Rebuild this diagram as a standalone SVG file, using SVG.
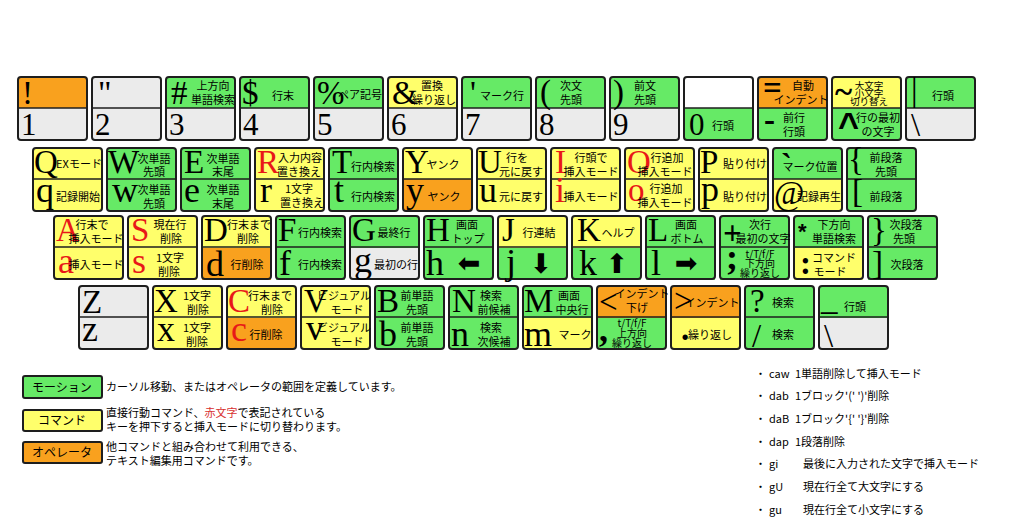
<svg xmlns="http://www.w3.org/2000/svg" xmlns:xlink="http://www.w3.org/1999/xlink" width="1024" height="528" viewBox="0 0 1024 528">
<style>
.G{fill:#66EA66}.Y{fill:#FFFF6B}.O{fill:#F9A11E}.W{fill:#EBEBEB}.E{fill:#FFFFFF}
.b{fill:none;stroke:#1E1E1E;stroke-width:2}
.d{stroke:#1E1E1E;stroke-width:1.6}
.K{font-family:"Liberation Serif",serif;font-size:33px;fill:#000}
.k{font-family:"Liberation Serif",serif;font-size:36px;fill:#000}
.n{font-family:"Liberation Serif",serif;font-size:31px;fill:#000}
.bd{font-weight:bold}
.t{font-family:"Noto Sans CJK JP",sans-serif;font-size:11px;text-anchor:middle;fill:#000}
.s{font-family:"Noto Sans CJK JP",sans-serif;font-size:10px;text-anchor:middle;fill:#000}
.s9{font-family:"Noto Sans CJK JP",sans-serif;font-size:9.5px;text-anchor:middle;fill:#000}
.a{font-family:"DejaVu Sans",sans-serif;font-size:27px;text-anchor:middle;fill:#000}
.sy{font-family:"Liberation Sans",sans-serif;font-weight:bold;fill:#000}
.lg{font-family:"Noto Sans CJK JP",sans-serif;font-size:11px;fill:#000}
.lb{font-family:"Noto Sans CJK JP",sans-serif;font-size:12px;text-anchor:middle;fill:#000}
.r{fill:#E81818}
.lr{fill:#D83030}
</style>
<defs>
<g id="fr"><rect class="b" width="69" height="63" rx="3"/><line class="d" x1="0" y1="31" x2="69" y2="31"/></g>
</defs>

<!-- Row 1 -->
<g id="key-1" transform="translate(18,77)"><rect class="O" width="69" height="31"/><rect class="W" y="31" width="69" height="32"/><use href="#fr"/>
<text class="K" x="4" y="27">!</text><text class="n" x="3" y="58">1</text></g>
<g id="key-2" transform="translate(92,77)"><rect class="W" width="69" height="31"/><rect class="W" y="31" width="69" height="32"/><use href="#fr"/>
<text class="K" x="6" y="27">"</text><text class="n" x="3" y="58">2</text></g>
<g id="key-3" transform="translate(166,77)"><rect class="G" width="69" height="31"/><rect class="W" y="31" width="69" height="32"/><use href="#fr"/>
<text class="K" x="5" y="27">#</text><text class="t" x="47" y="13">上方向</text><text class="t" x="47" y="27">単語検索</text><text class="n" x="3" y="58">3</text></g>
<g id="key-4" transform="translate(240,77)"><rect class="G" width="69" height="31"/><rect class="W" y="31" width="69" height="32"/><use href="#fr"/>
<text class="K" x="2" y="27">$</text><text class="t" x="43" y="23">行末</text><text class="n" x="3" y="58">4</text></g>
<g id="key-5" transform="translate(314,77)"><rect class="G" width="69" height="31"/><rect class="W" y="31" width="69" height="32"/><use href="#fr"/>
<text class="K" x="3" y="27">%</text><text class="t" x="46" y="22">ペア記号</text><text class="n" x="3" y="58">5</text></g>
<g id="key-6" transform="translate(388,77)"><rect class="Y" width="69" height="31"/><rect class="W" y="31" width="69" height="32"/><use href="#fr"/>
<text class="K" x="4" y="27">&amp;</text><text class="t" x="44" y="13">置換</text><text class="t" x="46" y="27">繰り返し</text><text class="n" x="3" y="58">6</text></g>
<g id="key-7" transform="translate(462,77)"><rect class="G" width="69" height="31"/><rect class="W" y="31" width="69" height="32"/><use href="#fr"/>
<text class="K" x="8" y="27">'</text><text class="t" x="40" y="23">マーク行</text><text class="n" x="3" y="58">7</text></g>
<g id="key-8" transform="translate(536,77)"><rect class="G" width="69" height="31"/><rect class="W" y="31" width="69" height="32"/><use href="#fr"/>
<text class="K" x="4" y="26">(</text><text class="t" x="35" y="13">次文</text><text class="t" x="35" y="27">先頭</text><text class="n" x="3" y="58">8</text></g>
<g id="key-9" transform="translate(610,77)"><rect class="G" width="69" height="31"/><rect class="W" y="31" width="69" height="32"/><use href="#fr"/>
<text class="K" x="3" y="26">)</text><text class="t" x="35" y="13">前文</text><text class="t" x="35" y="27">先頭</text><text class="n" x="3" y="58">9</text></g>
<g id="key-0" transform="translate(684,77)"><rect class="E" width="69" height="31"/><rect class="G" y="31" width="69" height="32"/><use href="#fr"/>
<text class="n" x="5" y="58">0</text><text class="t" x="39" y="53">行頭</text></g>
<g id="key-minus" transform="translate(758,77)"><rect class="O" width="69" height="31"/><rect class="G" y="31" width="69" height="32"/><use href="#fr"/>
<text class="K bd" x="5" y="22">=</text><text class="t" x="45" y="13">自動</text><text class="t" x="43" y="27">インデント</text>
<text class="K bd" x="6" y="54">-</text><text class="t" x="36" y="45">前行</text><text class="t" x="36" y="59">行頭</text></g>
<g id="key-caret" transform="translate(832,77)"><rect class="Y" width="69" height="31"/><rect class="G" y="31" width="69" height="32"/><use href="#fr"/>
<text class="K bd" x="3" y="26">~</text><text class="s9" x="37" y="11.5">大文字</text><text class="s9" x="37" y="19.5">小文字</text><text class="s9" x="37" y="27.5">切り替え</text>
<text class="sy" font-size="36" x="6" y="61">^</text><text class="t" x="46" y="45">行の最初</text><text class="t" x="46" y="59">の文字</text></g>
<g id="key-yen" transform="translate(906,77)"><rect class="G" width="69" height="31"/><rect class="W" y="31" width="69" height="32"/><use href="#fr"/>
<text class="K" x="5" y="24">|</text><text class="t" x="37" y="23">行頭</text><text class="K" x="5" y="59">\</text></g>

<!-- Row 2 -->
<g id="key-q" transform="translate(33,148)"><rect class="Y" width="69" height="31"/><rect class="Y" y="31" width="69" height="32"/><use href="#fr"/>
<text class="K" x="1" y="25">Q</text><text class="t" x="46" y="20">EXモード</text>
<text class="k" x="3" y="54">q</text><text class="t" x="45" y="53">記録開始</text></g>
<g id="key-w" transform="translate(107,148)"><rect class="G" width="69" height="31"/><rect class="G" y="31" width="69" height="32"/><use href="#fr"/>
<text class="K" x="1" y="25">W</text><text class="t" x="47" y="15">次単語</text><text class="t" x="47" y="28">先頭</text>
<text class="k" x="5" y="54">w</text><text class="t" x="47" y="46">次単語</text><text class="t" x="47" y="60">先頭</text></g>
<g id="key-e" transform="translate(181,148)"><rect class="G" width="69" height="31"/><rect class="G" y="31" width="69" height="32"/><use href="#fr"/>
<text class="K" x="3" y="25">E</text><text class="t" x="42" y="15">次単語</text><text class="t" x="42" y="28">末尾</text>
<text class="k" x="3" y="54">e</text><text class="t" x="42" y="46">次単語</text><text class="t" x="42" y="60">末尾</text></g>
<g id="key-r" transform="translate(255,148)"><rect class="Y" width="69" height="31"/><rect class="Y" y="31" width="69" height="32"/><use href="#fr"/>
<text class="K r" x="2" y="25">R</text><text class="t" x="45" y="14">入力内容</text><text class="t" x="44" y="28">置き換え</text>
<text class="k" x="5" y="54">r</text><text class="t" x="44" y="45">1文字</text><text class="t" x="47" y="59">置き換え</text></g>
<g id="key-t" transform="translate(329,148)"><rect class="G" width="69" height="31"/><rect class="G" y="31" width="69" height="32"/><use href="#fr"/>
<text class="K" x="3" y="25">T</text><text class="t" x="44" y="23">行内検索</text>
<text class="k" x="5" y="54">t</text><text class="t" x="44" y="53">行内検索</text></g>
<g id="key-y" transform="translate(403,148)"><rect class="Y" width="69" height="31"/><rect class="O" y="31" width="69" height="32"/><use href="#fr"/>
<text class="K" x="2" y="25">Y</text><text class="t" x="40" y="21">ヤンク</text>
<text class="k" x="3" y="54">y</text><text class="t" x="41" y="53">ヤンク</text></g>
<g id="key-u" transform="translate(477,148)"><rect class="Y" width="69" height="31"/><rect class="Y" y="31" width="69" height="32"/><use href="#fr"/>
<text class="K" x="1" y="25">U</text><text class="t" x="40" y="14">行を</text><text class="t" x="44" y="28">元に戻す</text>
<text class="k" x="2" y="54">u</text><text class="t" x="44" y="53">元に戻す</text></g>
<g id="key-i" transform="translate(551,148)"><rect class="Y" width="69" height="31"/><rect class="Y" y="31" width="69" height="32"/><use href="#fr"/>
<text class="K r" x="4" y="25">I</text><text class="t" x="40" y="14">行頭で</text><text class="t" x="40" y="28">挿入モード</text>
<text class="k r" x="4" y="54">i</text><text class="t" x="40" y="53">挿入モード</text></g>
<g id="key-o" transform="translate(625,148)"><rect class="Y" width="69" height="31"/><rect class="Y" y="31" width="69" height="32"/><use href="#fr"/>
<text class="K r" x="2" y="25">O</text><text class="t" x="42" y="14">行追加</text><text class="t" x="40" y="28">挿入モード</text>
<text class="K r" x="3" y="53">o</text><text class="t" x="41" y="45">行追加</text><text class="t" x="40" y="59">挿入モード</text></g>
<g id="key-p" transform="translate(699,148)"><rect class="Y" width="69" height="31"/><rect class="Y" y="31" width="69" height="32"/><use href="#fr"/>
<text class="K" x="1" y="25">P</text><text class="t" x="46" y="20">貼り付け</text>
<text class="k" x="2" y="53">p</text><text class="t" x="46" y="53">貼り付け</text></g>
<g id="key-at" transform="translate(773,148)"><rect class="G" width="69" height="31"/><rect class="Y" y="31" width="69" height="32"/><use href="#fr"/>
<text class="K bd" x="8" y="29">`</text><text class="t" x="37" y="23">マーク位置</text>
<text class="K" font-size="30" x="1" y="56">@</text><text class="t" x="46" y="53">記録再生</text></g>
<g id="key-lbracket" transform="translate(847,148)"><rect class="G" width="69" height="31"/><rect class="G" y="31" width="69" height="32"/><use href="#fr"/>
<text class="K" x="1" y="22">{</text><text class="t" x="39" y="14">前段落</text><text class="t" x="39" y="28">先頭</text>
<text class="K" x="5" y="54">[</text><text class="t" x="39" y="53">前段落</text></g>

<!-- Row 3 -->
<g id="key-a" transform="translate(54,216)"><rect class="Y" width="69" height="32"/><rect class="Y" y="32" width="69" height="32"/><use href="#fr"/>
<text class="K r" x="2" y="25">A</text><text class="t" x="38" y="13">行末で</text><text class="t" x="42" y="27">挿入モード</text>
<text class="k r" x="4" y="57">a</text><text class="t" x="42" y="53">挿入モード</text></g>
<g id="key-s" transform="translate(128,216)"><rect class="Y" width="69" height="32"/><rect class="Y" y="32" width="69" height="32"/><use href="#fr"/>
<text class="K r" x="3" y="25">S</text><text class="t" x="42" y="13">現在行</text><text class="t" x="43" y="27">削除</text>
<text class="k r" x="4" y="57">s</text><text class="t" x="42" y="46">1文字</text><text class="t" x="41" y="60">削除</text></g>
<g id="key-d" transform="translate(202,216)"><rect class="Y" width="69" height="32"/><rect class="O" y="32" width="69" height="32"/><use href="#fr"/>
<text class="K" x="2" y="25">D</text><text class="t" x="47" y="13">行末まで</text><text class="t" x="46" y="27">削除</text>
<text class="k" x="4" y="60">d</text><text class="t" x="45" y="53">行削除</text></g>
<g id="key-f" transform="translate(276,216)"><rect class="G" width="69" height="32"/><rect class="G" y="32" width="69" height="32"/><use href="#fr"/>
<text class="K" x="2" y="25">F</text><text class="t" x="44" y="21">行内検索</text>
<text class="k" x="3" y="59">f</text><text class="t" x="44" y="53">行内検索</text></g>
<g id="key-g" transform="translate(350,216)"><rect class="G" width="69" height="32"/><rect class="W" y="32" width="69" height="32"/><use href="#fr"/>
<text class="K" x="2" y="25">G</text><text class="t" x="44" y="21">最終行</text>
<text class="k" x="4" y="56">g</text><text class="t" x="46" y="53">最初の行</text></g>
<g id="key-h" transform="translate(424,216)"><rect class="G" width="69" height="32"/><rect class="G" y="32" width="69" height="32"/><use href="#fr"/>
<text class="K" x="2" y="25">H</text><text class="t" x="43" y="13">画面</text><text class="t" x="44" y="27">トップ</text>
<text class="k" x="2" y="59">h</text><text class="a" x="45" y="56">⬅</text></g>
<g id="key-j" transform="translate(498,216)"><rect class="Y" width="69" height="32"/><rect class="G" y="32" width="69" height="32"/><use href="#fr"/>
<text class="K" x="4" y="25">J</text><text class="t" x="41" y="21">行連結</text>
<text class="k" x="8" y="58">j</text><text class="a" x="43" y="57">⬇</text></g>
<g id="key-k" transform="translate(572,216)"><rect class="Y" width="69" height="32"/><rect class="G" y="32" width="69" height="32"/><use href="#fr"/>
<text class="K" x="5" y="25">K</text><text class="t" x="46" y="21">ヘルプ</text>
<text class="k" x="7" y="59">k</text><text class="a" x="45" y="57">⬆</text></g>
<g id="key-l" transform="translate(646,216)"><rect class="G" width="69" height="32"/><rect class="G" y="32" width="69" height="32"/><use href="#fr"/>
<text class="K" x="2" y="25">L</text><text class="t" x="40" y="13">画面</text><text class="t" x="41" y="27">ボトム</text>
<text class="k" x="5" y="59">l</text><text class="a" x="40" y="56">➡</text></g>
<g id="key-plus" transform="translate(720,216)"><rect class="G" width="69" height="32"/><rect class="G" y="32" width="69" height="32"/><use href="#fr"/>
<text class="K bd" x="3" y="28">+</text><text class="t" x="40" y="13">次行</text><text class="t" x="43" y="27">最初の文字</text>
<text class="k bd" x="6" y="53">;</text><text class="s" x="40" y="42">t/T/f/F</text><text class="s" x="40" y="51">下方向</text><text class="s" x="40" y="61">繰り返し</text></g>
<g id="key-star" transform="translate(794,216)"><rect class="G" width="69" height="32"/><rect class="Y" y="32" width="69" height="32"/><use href="#fr"/>
<text class="sy" font-size="22" x="4" y="23">*</text><text class="t" x="40" y="13">下方向</text><text class="t" x="40" y="27">単語検索</text>
<text class="K bd" x="6" y="58">:</text><text class="t" x="40" y="46">コマンド</text><text class="t" x="36" y="60">モード</text></g>
<g id="key-rbracket" transform="translate(868,216)"><rect class="G" width="69" height="32"/><rect class="G" y="32" width="69" height="32"/><use href="#fr"/>
<text class="K" x="3" y="25">}</text><text class="t" x="38" y="13">次段落</text><text class="t" x="36" y="27">先頭</text>
<text class="K" x="4" y="58">]</text><text class="t" x="39" y="53">次段落</text></g>

<!-- Row 4 -->
<g id="key-z" transform="translate(79,286)"><rect class="W" width="69" height="32"/><rect class="W" y="32" width="69" height="31"/><use href="#fr"/>
<text class="K" x="3" y="27">Z</text><text class="k" font-size="34" x="3" y="55">z</text></g>
<g id="key-x" transform="translate(153,286)"><rect class="Y" width="69" height="32"/><rect class="Y" y="32" width="69" height="31"/><use href="#fr"/>
<text class="K" x="1" y="26">X</text><text class="t" x="44" y="14">1文字</text><text class="t" x="45" y="28">削除</text>
<text class="k" font-size="34" x="4" y="55">x</text><text class="t" x="44" y="46">1文字</text><text class="t" x="44" y="60">削除</text></g>
<g id="key-c" transform="translate(227,286)"><rect class="Y" width="69" height="32"/><rect class="O" y="32" width="69" height="31"/><use href="#fr"/>
<text class="K r" x="1" y="26">C</text><text class="t" x="43" y="14">行末まで</text><text class="t" x="45" y="28">削除</text>
<text class="k r" font-size="34" x="4" y="55">c</text><text class="t" x="39" y="53">行削除</text></g>
<g id="key-v" transform="translate(301,286)"><rect class="Y" width="69" height="32"/><rect class="Y" y="32" width="69" height="31"/><use href="#fr"/>
<text class="K" x="3" y="26">V</text><text class="t" x="43" y="14">ビジュアル</text><text class="t" x="46" y="28">モード</text>
<text class="k" font-size="34" x="5" y="54">v</text><text class="t" x="43" y="46">ビジュアル</text><text class="t" x="46" y="60">モード</text></g>
<g id="key-b" transform="translate(375,286)"><rect class="G" width="69" height="32"/><rect class="G" y="32" width="69" height="31"/><use href="#fr"/>
<text class="K" x="2" y="26">B</text><text class="t" x="42" y="14">前単語</text><text class="t" x="42" y="28">先頭</text>
<text class="k" x="4" y="60">b</text><text class="t" x="42" y="46">前単語</text><text class="t" x="42" y="60">先頭</text></g>
<g id="key-n" transform="translate(449,286)"><rect class="G" width="69" height="32"/><rect class="G" y="32" width="69" height="31"/><use href="#fr"/>
<text class="K" x="3" y="26">N</text><text class="t" x="42" y="14">検索</text><text class="t" x="45" y="28">前候補</text>
<text class="k" font-size="44" x="2" y="60">n</text><text class="t" x="42" y="46">検索</text><text class="t" x="45" y="60">次候補</text></g>
<g id="key-m" transform="translate(523,286)"><rect class="G" width="69" height="32"/><rect class="Y" y="32" width="69" height="31"/><use href="#fr"/>
<text class="K" x="1" y="26">M</text><text class="t" x="46" y="14">画面</text><text class="t" x="49" y="28">中央行</text>
<text class="k" font-size="44" x="1" y="60">m</text><text class="t" x="52" y="53">マーク</text></g>
<g id="key-lt" transform="translate(597,286)"><rect class="O" width="69" height="32"/><rect class="G" y="32" width="69" height="31"/><use href="#fr"/>
<text class="K" x="2" y="27">&lt;</text><text class="t" x="45" y="12">インデント</text><text class="t" x="40" y="26">下げ</text>
<text class="k bd" x="2" y="55">,</text><text class="s" x="35" y="41">t/T/f/F</text><text class="s" x="35" y="51">上方向</text><text class="s" x="35" y="61">繰り返し</text></g>
<g id="key-gt" transform="translate(671,286)"><rect class="O" width="69" height="32"/><rect class="Y" y="32" width="69" height="31"/><use href="#fr"/>
<text class="K" x="3" y="26">&gt;</text><text class="t" x="41" y="21">インデント</text>
<text class="K bd" font-size="28" x="10" y="54">.</text><text class="t" x="39" y="53">繰り返し</text></g>
<g id="key-question" transform="translate(745,286)"><rect class="G" width="69" height="32"/><rect class="G" y="32" width="69" height="31"/><use href="#fr"/>
<text class="K" x="5" y="26">?</text><text class="t" x="38" y="21">検索</text>
<text class="K" x="7" y="61">/</text><text class="t" x="38" y="53">検索</text></g>
<g id="key-underscore" transform="translate(819,286)"><rect class="G" width="69" height="32"/><rect class="W" y="32" width="69" height="31"/><use href="#fr"/>
<text class="K" font-size="40" x="2" y="24">_</text><text class="t" x="36" y="25">行頭</text>
<text class="K" x="5" y="61">\</text></g>

<!-- Legend -->
<g id="legend-motion">
<rect class="G" x="23" y="376" width="79" height="22" rx="2" stroke="#1E1E1E" stroke-width="2"/>
<text class="lb" x="62" y="391.5">モーション</text>
<text class="lg" x="106" y="391">カーソル移動、またはオペレータの範囲を定義しています。</text>
</g>
<g id="legend-command">
<rect class="Y" x="23" y="410" width="79" height="21" rx="2" stroke="#1E1E1E" stroke-width="2"/>
<text class="lb" x="62" y="425">コマンド</text>
<text class="lg" x="106" y="417">直接行動コマンド、<tspan class="lr">赤文字</tspan>で表記されている</text>
<text class="lg" x="106" y="431">キーを押下すると挿入モードに切り替わります。</text>
</g>
<g id="legend-operator">
<rect class="O" x="23" y="442" width="79" height="21" rx="2" stroke="#1E1E1E" stroke-width="2"/>
<text class="lb" x="62" y="457">オペレータ</text>
<text class="lg" x="106" y="451">他コマンドと組み合わせて利用できる、</text>
<text class="lg" x="106" y="465">テキスト編集用コマンドです。</text>
</g>

<!-- Notes -->
<g id="notes">
<text class="lg" x="755" y="378">・</text><text class="lg" x="769" y="378">caw</text><text class="lg" x="795" y="378">1単語削除して挿入モード</text>
<text class="lg" x="755" y="400">・</text><text class="lg" x="769" y="400">dab</text><text class="lg" x="795" y="400">1ブロック'(' ')'削除</text>
<text class="lg" x="755" y="423">・</text><text class="lg" x="769" y="423">daB</text><text class="lg" x="795" y="423">1ブロック'{' '}'削除</text>
<text class="lg" x="755" y="446">・</text><text class="lg" x="769" y="446">dap</text><text class="lg" x="795" y="446">1段落削除</text>
<text class="lg" x="755" y="468">・</text><text class="lg" x="769" y="468">gi</text><text class="lg" x="803" y="468">最後に入力された文字で挿入モード</text>
<text class="lg" x="755" y="491">・</text><text class="lg" x="769" y="491">gU</text><text class="lg" x="803" y="491">現在行全て大文字にする</text>
<text class="lg" x="755" y="514">・</text><text class="lg" x="769" y="514">gu</text><text class="lg" x="803" y="514">現在行全て小文字にする</text>
</g>
</svg>
